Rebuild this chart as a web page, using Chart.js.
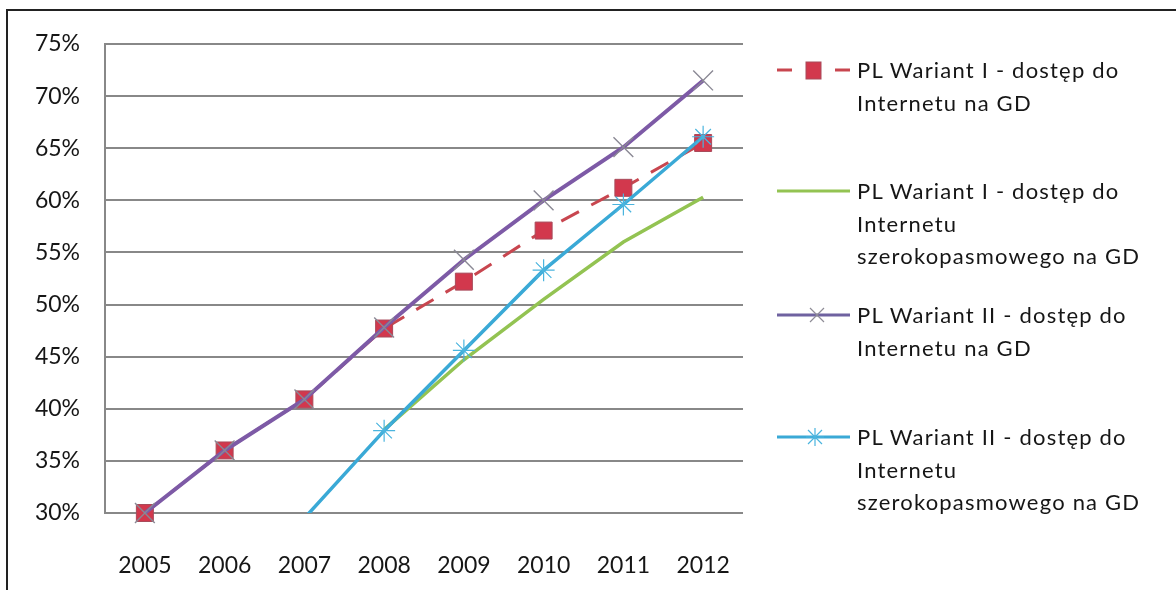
<!DOCTYPE html>
<html>
<head>
<meta charset="utf-8">
<script src="https://cdn.jsdelivr.net/npm/chart.js@4"></script>
<style>
  body { margin: 0; background: #fff; font-family: Lato, sans-serif; }
  #wrap { position: relative; width: 1176px; height: 590px; overflow: hidden; }
  #frame { position: absolute; left: 6px; top: 9px; width: 1200px; height: 620px; border: 2px solid #222; }
  #myChart { position: absolute; left: 0; top: 0; }
  .item { position: absolute; left: 777px; }
  .item svg { position: absolute; left: 0; top: 4px; }
  .txt { position: absolute; left: 80px; top: 0; white-space: nowrap; font-size: 22px; letter-spacing: 1.2px; line-height: 32.5px; color: #161616; }
</style>
</head>
<body>
<div id="wrap">
  <div id="frame"></div>
  <canvas id="myChart" width="1176" height="590"></canvas>
  <div id="legend"></div>
</div>
<script>
const years = ['2005', '2006', '2007', '2008', '2009', '2010', '2011', '2012'];

const w1Internet = [30, 36, 40.9, 47.7, 52.2, 57.1, 61.2, 65.5];
const w1Szeroko = [null, null, null, 38, 44.7, 50.5, 56.0, 60.3];
const w2Internet = [30, 36, 40.9, 47.8, 54.3, 60.0, 65.1, 71.5];
const w2Szeroko = [null, null, 29.5, 37.9, 45.6, 53.3, 59.6, 66.1];

const seriesNames = [
    ['PL Wariant I - dostęp do', 'Internetu na GD'],
    ['PL Wariant I - dostęp do', 'Internetu', 'szerokopasmowego  na GD'],
    ['PL Wariant II - dostęp do', 'Internetu na GD'],
    ['PL Wariant II - dostęp do', 'Internetu', 'szerokopasmowego  na GD']
];

const yTicks = [30, 35, 40, 45, 50, 55, 60, 65, 70, 75];

const ctx = document.getElementById('myChart');
const fontCfg = { family: 'Lato', size: 23 };

// excel hides markers lying below the axis
const hideBelow = (r) => (c) => (c.raw < yTicks[0] ? 0 : r);

const data = {
    labels: years,
    datasets: [
        {
            label: seriesNames[0].join(' '),
            data: w1Internet,
            borderColor: '#c8464f',
            borderWidth: 3,
            borderDash: [20, 14],
            pointStyle: 'rect',
            pointRadius: 12,
            pointBackgroundColor: '#d2384d',
            pointBorderColor: '#a84a5a',
            pointBorderWidth: 1,
            clip: false,
            order: 4
        }, {
            label: seriesNames[1].join(' '),
            data: w1Szeroko,
            borderColor: '#93c352',
            borderWidth: 3.5,
            pointRadius: 0,
            order: 3
        }, {
            label: seriesNames[2].join(' '),
            data: w2Internet,
            borderColor: '#7d5aa6',
            borderWidth: 4,
            pointStyle: 'crossRot',
            pointRadius: 14,
            pointBorderColor: '#8a8894',
            pointBorderWidth: 1.4,
            clip: false,
            order: 2
        }, {
            label: seriesNames[3].join(' '),
            data: w2Szeroko,
            borderColor: '#3aa9d6',
            borderWidth: 3.5,
            pointStyle: 'star',
            pointRadius: hideBelow(11),
            pointBorderColor: '#4ab4de',
            pointBorderWidth: 1.2,
            order: 1
        }
    ]
};

const chart = new Chart(ctx, {
    type: 'line',
    data: data,
    options: {
        responsive: false,
        animation: false,
        layout: { padding: { left: 0, top: 44, right: 433, bottom: 0 } },
        plugins: { legend: { display: false }, tooltip: { enabled: false } },
        elements: { line: { tension: 0 } },
        scales: {
            x: {
                offset: true,
                grid: { display: false },
                border: { display: false },
                ticks: { font: fontCfg, color: '#161616', padding: 31, maxRotation: 0 },
                afterFit: (s) => { s.height = 77; }
            },
            y: {
                min: yTicks[0],
                max: yTicks[yTicks.length - 1],
                grid: { color: '#888', lineWidth: 2, drawTicks: false },
                border: { color: '#888', width: 2 },
                ticks: {
                    stepSize: 5,
                    font: fontCfg,
                    color: '#161616',
                    padding: 25,
                    callback: (v) => v + '%'
                },
                afterFit: (s) => { s.width = 105; }
            }
        }
    }
});

// legend as html, excel style with wrapped labels
const markers = [
    '<line x1="0" y1="12" x2="15" y2="12" stroke="#c8464f" stroke-width="3"/>' +
    '<rect x="29" y="4" width="15" height="17" fill="#d2384d" stroke="#a84a5a"/>' +
    '<line x1="58" y1="12" x2="73" y2="12" stroke="#c8464f" stroke-width="3"/>',
    '<line x1="0" y1="12" x2="73" y2="12" stroke="#93c352" stroke-width="3"/>',
    '<line x1="0" y1="12" x2="73" y2="12" stroke="#6f62a0" stroke-width="3"/>' +
    '<path d="M33 5 L47 19 M47 5 L33 19" stroke="#8e8c96" stroke-width="1.2"/>',
    '<line x1="0" y1="12" x2="73" y2="12" stroke="#3aa9d6" stroke-width="3"/>' +
    '<path d="M31 5 L45 19 M45 5 L31 19 M38 3 L38 21 M29 12 L47 12" stroke="#4ab4de" stroke-width="1.2"/>'
];
const legendTops = [54, 175, 299, 421];
const leg = document.getElementById('legend');
seriesNames.forEach((lines, i) => {
    const d = document.createElement('div');
    d.className = 'item';
    d.style.top = legendTops[i] + 'px';
    d.innerHTML = '<svg width="74" height="24">' + markers[i] + '</svg>' +
        '<div class="txt">' + lines.join('<br>') + '</div>';
    leg.appendChild(d);
});
</script>
</body>
</html>
